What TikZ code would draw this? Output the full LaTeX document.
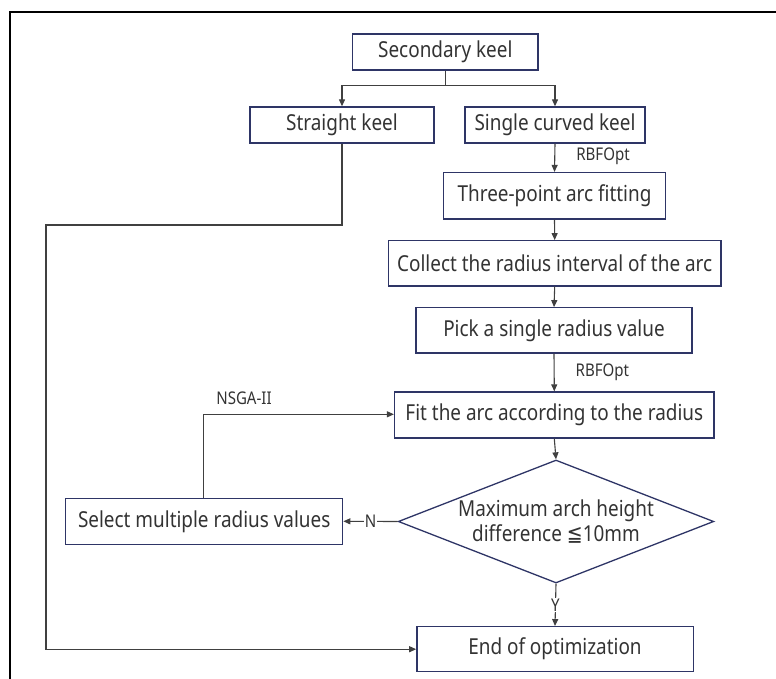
\documentclass[tikz,border=0pt]{standalone}
\usepackage{fontspec}
\setmainfont{Noto Sans}[FakeStretch=0.86]
\newfontfamily\symfont{DejaVu Sans}[FakeStretch=0.86]
\usetikzlibrary{shapes.geometric,arrows.meta}
\definecolor{boxline}{HTML}{2E3566}
\definecolor{txt}{HTML}{333333}
\definecolor{conn}{HTML}{404040}
\tikzset{
  box/.style={draw=boxline, line width=1.3pt, fill=white, inner sep=0pt, text=txt, font=\fontsize{22}{25}\selectfont},
  conn/.style={draw=conn, line width=1.1pt},
  arr/.style={conn, -{Triangle[length=7pt,width=6pt]}},
  lbl/.style={text=txt, font=\fontsize{17.5}{19}\selectfont, inner sep=1pt},
}
\begin{document}
\begin{tikzpicture}[x=1pt,y=-1pt]
\useasboundingbox (0,0) rectangle (776,679);
\clip (0,0) rectangle (776,679);
\draw[line width=2pt, black] (9.5,700) -- (9.5,12) -- (800,12);

\node[box, minimum width=185.3pt, minimum height=36pt] (sec) at (445.3,52) {Secondary keel};
\node[box, minimum width=184pt, minimum height=36pt] (str) at (342,125) {Straight keel};
\node[box, minimum width=180pt, minimum height=36pt] (sgl) at (555,125) {Single curved keel};
\node[box, minimum width=222pt, minimum height=46.5pt] (thr) at (554.5,195.8) {Three-point arc fitting};
\node[box, minimum width=332.7pt, minimum height=45.3pt] (col) at (554.7,263.4) {Collect the radius interval of the arc};
\node[box, minimum width=276pt, minimum height=45.3pt] (pck) at (554,330.4) {Pick a single radius value};
\node[box, minimum width=319.5pt, minimum height=46pt] (fit) at (554.3,415) {Fit the arc according to the radius};
\node[diamond, draw=boxline, line width=1.3pt, inner sep=0pt, aspect=2.565, minimum width=315.5pt, minimum height=123pt] (dia) at (556,521.5) {};
\node[text=txt, align=center, font=\fontsize{22}{25}\selectfont] (diat) at (556,521.5) {Maximum arch height\\difference {\symfont ≦}10mm};
\node[box, minimum width=277pt, minimum height=46pt] (sel) at (204.2,521.3) {Select multiple radius values};
\node[box, minimum width=276.3pt, minimum height=45pt] (end) at (555,649.2) {End of optimization};

\coordinate (br) at (445.3,85.7);
\draw[conn] (sec.south) -- (br);
\draw[arr] (br) -| (str.north);
\draw[arr] (br) -| (sgl.north);
\draw[arr] (sgl.south) -- (thr.north) node[lbl, pos=0.45, right=20pt] {RBFOpt};
\draw[arr] (thr.south) -- (col.north);
\draw[arr] (col.south) -- (pck.north);
\draw[arr] (pck.south) -- (fit.north) node[lbl, pos=0.5, right=20pt] {RBFOpt};
\draw[arr] (fit.south) -- (dia.north);
\draw[arr] (dia.west) -- (sel.east) node[lbl, midway, fill=white, inner sep=0.5pt] {N};
\draw[arr] (dia.south) -- (end.north) node[lbl, midway, fill=white, inner sep=0.5pt] {Y};
\coordinate (lp) at (203.3,414.3);
\draw[arr] (sel.north -| lp) -- (lp) -- (fit.west |- lp);
\node[lbl] (nsga) at (244,398) {NSGA-II};
\coordinate (s1) at (342,225);
\coordinate (s2) at (46,225);
\coordinate (s3) at (46,649.2);
\draw[arr] (str.south) -- (s1) -- (s2) -- (s3) -- (end.west);
\end{tikzpicture}
\end{document}
